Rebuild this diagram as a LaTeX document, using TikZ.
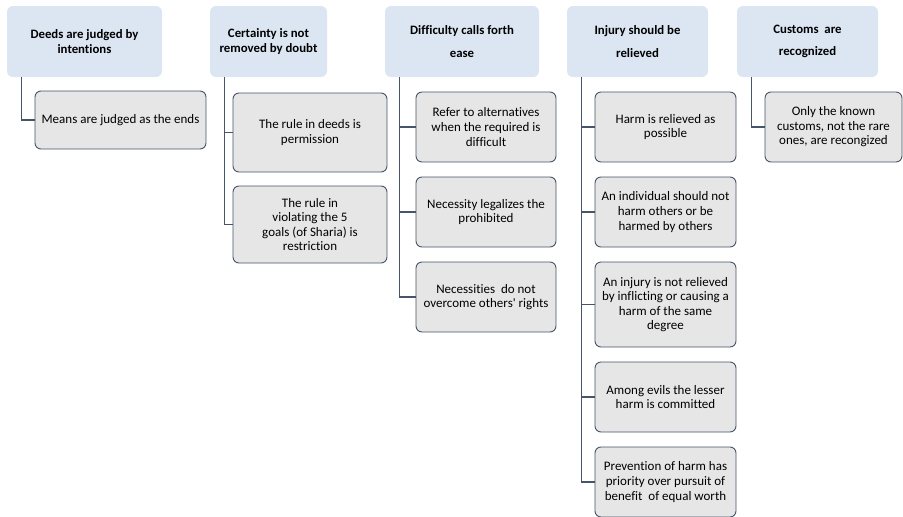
\documentclass[tikz,border=0pt]{standalone}
\usepackage{fontspec}
\setmainfont{Carlito}[Ligatures={TeX,NoCommon}]
\definecolor{headblue}{HTML}{DCE6F2}
\definecolor{itemgray}{HTML}{E6E6E6}
\definecolor{slate}{HTML}{46556A}
\tikzset{
	headbox/.style={fill=headblue, rounded corners=6pt, align=center, inner sep=0pt,
		minimum height=71pt, font=\fontsize{12.8}{14.5}\selectfont\bfseries},
	itembox/.style={fill=itemgray, draw=slate, line width=0.9pt, rounded corners=6pt,
		align=center, inner sep=0pt, font=\fontsize{13}{14.6}\selectfont},
	branch/.style={draw=slate, line width=1.1pt}
}
\begin{document}
\begin{tikzpicture}[x=1pt, y=-1pt]
	\useasboundingbox (0,0) rectangle (903,517);
	% headers
	\node[headbox, minimum width=155pt] (h1) at (84.5,41.5) {Deeds are judged by\\intentions};
	\node[headbox, minimum width=117pt] (h2) at (268.5,41.5) {Certainty is not\\removed by doubt};
	\node[headbox, minimum width=154pt] (h3) at (462,41.5) {Difficulty calls forth\\[8pt]ease};
	\node[headbox, minimum width=141pt] (h4) at (637.5,41.5) {Injury should be\\[8pt]relieved};
	\node[headbox, minimum width=141pt] (h5) at (807.5,41.5) {Customs\ \ are\\[8pt]recognized};

	% items
	\node[itembox, minimum width=171pt, minimum height=58pt] (c11) at (120.5,120) {Means are judged as the ends};

	\node[itembox, minimum width=154pt, minimum height=79pt] (c21) at (310,132.5) {The rule in deeds is\\permission};
	\node[itembox, minimum width=154pt, minimum height=77pt] (c22) at (310,224.5) {The rule in\\violating the 5\\goals (of Sharia) is\\restriction};

	\node[itembox, minimum width=140pt, minimum height=70pt] (c31) at (486,127) {Refer to alternatives\\when the required is\\difficult};
	\node[itembox, minimum width=140pt, minimum height=70pt] (c32) at (486,212) {Necessity legalizes the\\prohibited};
	\node[itembox, minimum width=140pt, minimum height=70pt] (c33) at (486,297) {Necessities\ \ do not\\overcome others\textquotesingle\ rights};

	\node[itembox, minimum width=141pt, minimum height=70pt] (c41) at (665.5,127) {Harm is relieved as\\possible};
	\node[itembox, minimum width=141pt, minimum height=70pt] (c42) at (665.5,212) {An individual should not\\harm others or be\\harmed by others};
	\node[itembox, minimum width=141pt, minimum height=85pt] (c43) at (665.5,304.5) {An injury is not relieved\\by inflicting or causing a\\harm of the same\\degree};
	\node[itembox, minimum width=141pt, minimum height=70pt] (c44) at (665.5,397) {Among evils the lesser\\harm is committed};
	\node[itembox, minimum width=141pt, minimum height=70pt] (c45) at (665.5,482) {Prevention of harm has\\priority over pursuit of\\benefit\ \ of equal worth};

	\node[itembox, minimum width=137pt, minimum height=70pt] (c51) at (833.5,127) {Only the known\\customs, not the rare\\ones, are recongized};

	% connectors
	\foreach \p/\c in {h1/c11, h2/c21, h2/c22, h3/c31, h3/c32, h3/c33,
		h4/c41, h4/c42, h4/c43, h4/c44, h4/c45, h5/c51}{
		\draw[branch] (\p.south west) ++(15,0) |- (\c.west);
	}
\end{tikzpicture}
\end{document}
